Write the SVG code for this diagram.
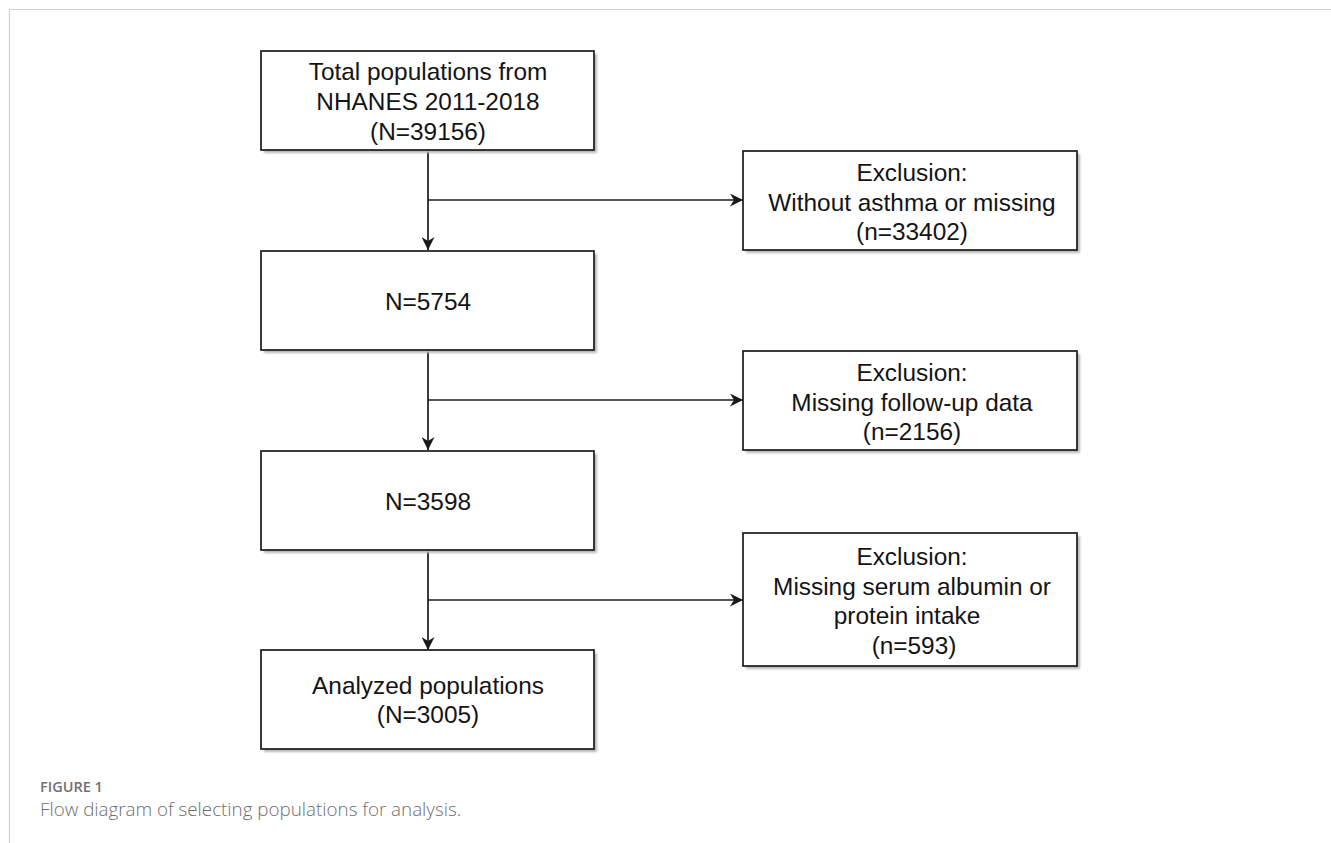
<svg xmlns="http://www.w3.org/2000/svg" width="1331" height="843" viewBox="0 0 1331 843">
  <style>
    .box { fill: #ffffff; stroke: #1a1a1a; stroke-width: 1.7; }
    .shadow { fill: #b8b8b8; filter: url(#blur); }
    .t { font-family: "Liberation Sans", Arial, Helvetica, sans-serif; font-size: 24.4px; fill: #141414; text-anchor: middle; }
    .conn { fill: none; stroke: #1a1a1a; stroke-width: 1.7; }
    .frame { stroke: #d2d2d2; stroke-width: 1.2; fill: none; }
    .caphead { font-family: "Open Sans", "Liberation Sans", sans-serif; font-size: 14.5px; font-weight: 600; fill: #707070; }
    .cap { font-family: "Open Sans", "Liberation Sans", sans-serif; font-size: 18.8px; font-weight: 300; fill: #6e6e6e; }
  </style>
  <defs>
    <filter id="blur" x="-5%" y="-5%" width="110%" height="110%">
      <feGaussianBlur stdDeviation="0.8"/>
    </filter>
    <marker id="arrow" markerUnits="userSpaceOnUse" markerWidth="14" markerHeight="13" refX="13" refY="6.5" orient="auto" viewBox="0 0 14 13">
      <path d="M0,0 L13,6.5 L0,13 L4,6.5 Z" fill="#1a1a1a"/>
    </marker>
  </defs>

  <rect width="1331" height="843" fill="#ffffff"/>
  <path class="frame" d="M9.5,843 L9.5,9.5 L1331,9.5"/>

  <g id="connectors">
    <path class="conn" d="M428,150 L428,250" marker-end="url(#arrow)"/>
    <path class="conn" d="M428,200 L743,200" marker-end="url(#arrow)"/>
    <path class="conn" d="M428,350 L428,450" marker-end="url(#arrow)"/>
    <path class="conn" d="M428,400 L743,400" marker-end="url(#arrow)"/>
    <path class="conn" d="M428,550 L428,650" marker-end="url(#arrow)"/>
    <path class="conn" d="M428,600 L743,600" marker-end="url(#arrow)"/>
  </g>

  <g id="node-total">
    <rect class="shadow" x="264" y="54" width="333" height="99"/>
    <rect class="box" x="261" y="51" width="333" height="99"/>
    <text class="t" x="428" y="80">Total populations from</text>
    <text class="t" x="428" y="110">NHANES 2011-2018</text>
    <text class="t" x="428" y="140">(N=39156)</text>
  </g>

  <g id="node-5754">
    <rect class="shadow" x="264" y="254" width="333" height="99"/>
    <rect class="box" x="261" y="251" width="333" height="99"/>
    <text class="t" x="428" y="310">N=5754</text>
  </g>

  <g id="node-3598">
    <rect class="shadow" x="264" y="454" width="333" height="99"/>
    <rect class="box" x="261" y="451" width="333" height="99"/>
    <text class="t" x="428" y="510">N=3598</text>
  </g>

  <g id="node-analyzed">
    <rect class="shadow" x="264" y="653" width="333" height="99"/>
    <rect class="box" x="261" y="650" width="333" height="99"/>
    <text class="t" x="428" y="694">Analyzed populations</text>
    <text class="t" x="428" y="723">(N=3005)</text>
  </g>

  <g id="excl-asthma">
    <rect class="shadow" x="746" y="154" width="334" height="99"/>
    <rect class="box" x="743" y="151" width="334" height="99"/>
    <text class="t" x="912" y="181">Exclusion:</text>
    <text class="t" x="912" y="211">Without asthma or missing</text>
    <text class="t" x="912" y="240">(n=33402)</text>
  </g>

  <g id="excl-followup">
    <rect class="shadow" x="746" y="354" width="334" height="99"/>
    <rect class="box" x="743" y="351" width="334" height="99"/>
    <text class="t" x="912" y="381">Exclusion:</text>
    <text class="t" x="912" y="411">Missing follow-up data</text>
    <text class="t" x="912" y="440">(n=2156)</text>
  </g>

  <g id="excl-albumin">
    <rect class="shadow" x="746" y="536" width="334" height="133"/>
    <rect class="box" x="743" y="533" width="334" height="133"/>
    <text class="t" x="912" y="565">Exclusion:</text>
    <text class="t" x="912" y="595">Missing serum albumin or</text>
    <text class="t" x="907" y="624">protein intake</text>
    <text class="t" x="914" y="654">(n=593)</text>
  </g>

  <g id="caption">
    <text class="caphead" x="40" y="792">FIGURE 1</text>
    <text class="cap" x="40" y="816">Flow diagram of selecting populations for analysis.</text>
  </g>
</svg>
